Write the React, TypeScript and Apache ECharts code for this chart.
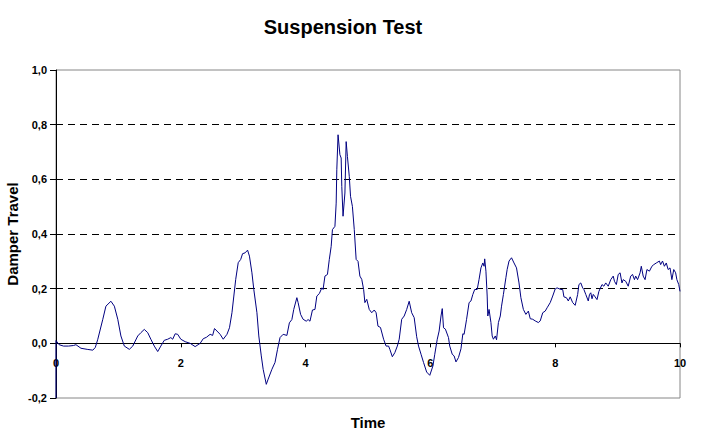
import React, { useEffect, useRef } from "react";
import * as echarts from "echarts";

const FONT = 'Arial, "Liberation Sans", sans-serif';

const chartTitle = "Suspension Test";
const xAxisTitle = "Time";
const yAxisTitle = "Damper Travel";

const timeValues = [
  0.0, 0.0, 0.05, 0.12, 0.2, 0.28, 0.32, 0.4, 0.5, 0.59, 0.63, 0.67, 0.75, 0.8, 0.88, 0.935, 0.99,
  1.04, 1.095, 1.175, 1.23, 1.31, 1.36, 1.415, 1.47, 1.52, 1.575, 1.63, 1.68, 1.735, 1.79, 1.84,
  1.87, 1.91, 1.95, 2.0, 2.07, 2.15, 2.23, 2.31, 2.36, 2.41, 2.47, 2.51, 2.54, 2.58, 2.63, 2.68,
  2.74, 2.78, 2.82, 2.85, 2.88, 2.92, 2.96, 2.99, 3.03, 3.07, 3.1, 3.14, 3.17, 3.22, 3.25, 3.29,
  3.32, 3.37, 3.4, 3.46, 3.51, 3.55, 3.59, 3.64, 3.7, 3.74, 3.78, 3.81, 3.86, 3.88, 3.92, 3.96,
  4.01, 4.04, 4.07, 4.11, 4.15, 4.18, 4.22, 4.26, 4.28, 4.31, 4.35, 4.38, 4.41, 4.43, 4.47, 4.49,
  4.5, 4.52, 4.55, 4.57, 4.58, 4.6, 4.63, 4.65, 4.67, 4.7, 4.72, 4.75, 4.78, 4.81, 4.84, 4.87,
  4.9, 4.93, 4.95, 4.98, 5.02, 5.06, 5.1, 5.13, 5.16, 5.2, 5.25, 5.29, 5.33, 5.35, 5.39, 5.43,
  5.47, 5.5, 5.54, 5.58, 5.62, 5.66, 5.7, 5.74, 5.78, 5.81, 5.85, 5.89, 5.94, 5.99, 6.04, 6.07,
  6.11, 6.14, 6.17, 6.19, 6.21, 6.24, 6.29, 6.31, 6.35, 6.38, 6.41, 6.45, 6.49, 6.52, 6.54, 6.58,
  6.62, 6.65, 6.68, 6.71, 6.75, 6.78, 6.81, 6.84, 6.86, 6.87, 6.89, 6.91, 6.92, 6.94, 6.97, 6.99,
  7.01, 7.04, 7.06, 7.09, 7.12, 7.14, 7.17, 7.21, 7.23, 7.26, 7.3, 7.34, 7.38, 7.42, 7.45, 7.49,
  7.53, 7.57, 7.6, 7.64, 7.68, 7.73, 7.76, 7.8, 7.84, 7.87, 7.92, 7.96, 8.0, 8.03, 8.09, 8.12,
  8.14, 8.18, 8.21, 8.24, 8.28, 8.32, 8.36, 8.38, 8.41, 8.44, 8.46, 8.49, 8.53, 8.55, 8.57, 8.59,
  8.61, 8.64, 8.67, 8.7, 8.75, 8.78, 8.81, 8.85, 8.89, 8.93, 8.95, 8.98, 9.01, 9.04, 9.07, 9.09,
  9.13, 9.17, 9.21, 9.24, 9.27, 9.29, 9.32, 9.36, 9.38, 9.41, 9.44, 9.47, 9.51, 9.55, 9.58, 9.62,
  9.67, 9.69, 9.72, 9.75, 9.78, 9.81, 9.84, 9.87, 9.9, 9.93, 9.95, 9.98, 10.0,
];

const damperTravel = [
  -0.2, 0.01, -0.005, -0.01, -0.01, -0.008, -0.005, -0.018, -0.022, -0.025, -0.015, 0.015, 0.088,
  0.136, 0.154, 0.136, 0.088, 0.027, -0.01, -0.022, -0.01, 0.027, 0.039, 0.051, 0.039, 0.015,
  -0.01, -0.03, -0.01, 0.011, 0.015, 0.021, 0.015, 0.035, 0.033, 0.015, 0.006, 0.0, -0.012, 0.0,
  0.017, 0.022, 0.033, 0.029, 0.054, 0.045, 0.033, 0.015, 0.033, 0.057, 0.112, 0.173, 0.234,
  0.295, 0.307, 0.328, 0.331, 0.341, 0.319, 0.258, 0.197, 0.112, 0.027, -0.046, -0.095, -0.15,
  -0.131, -0.095, -0.07, -0.022, 0.021, 0.033, 0.029, 0.075, 0.087, 0.124, 0.167, 0.149, 0.106,
  0.088, 0.081, 0.087, 0.081, 0.122, 0.124, 0.173, 0.182, 0.203, 0.197, 0.246, 0.252, 0.307,
  0.355, 0.416, 0.428, 0.513, 0.635, 0.763, 0.69, 0.678, 0.574, 0.465, 0.55, 0.738, 0.684, 0.611,
  0.538, 0.501, 0.416, 0.307, 0.3, 0.246, 0.234, 0.197, 0.149, 0.161, 0.124, 0.112, 0.122, 0.112,
  0.063, 0.058, 0.015, -0.01, -0.01, -0.022, -0.049, -0.034, -0.01, 0.015, 0.088, 0.1, 0.124,
  0.154, 0.112, 0.094, 0.024, -0.01, -0.04, -0.07, -0.105, -0.117, -0.083, -0.04, 0.015, 0.045,
  0.1, 0.127, 0.057, 0.052, 0.021, -0.01, -0.04, -0.046, -0.068, -0.052, -0.02, 0.035, 0.033,
  0.088, 0.149, 0.155, 0.179, 0.197, 0.197, 0.234, 0.276, 0.294, 0.282, 0.309, 0.264, 0.173, 0.1,
  0.124, 0.076, 0.027, 0.015, 0.027, 0.013, 0.076, 0.1, 0.136, 0.179, 0.24, 0.27, 0.301, 0.313,
  0.294, 0.276, 0.221, 0.167, 0.124, 0.106, 0.118, 0.09, 0.088, 0.082, 0.076, 0.082, 0.112, 0.118,
  0.13, 0.149, 0.173, 0.199, 0.203, 0.197, 0.197, 0.17, 0.167, 0.155, 0.17, 0.149, 0.139, 0.179,
  0.215, 0.221, 0.203, 0.197, 0.179, 0.155, 0.179, 0.185, 0.163, 0.179, 0.17, 0.16, 0.19, 0.215,
  0.209, 0.221, 0.209, 0.233, 0.246, 0.227, 0.215, 0.252, 0.258, 0.221, 0.233, 0.227, 0.209,
  0.246, 0.252, 0.233, 0.246, 0.233, 0.258, 0.282, 0.246, 0.233, 0.27, 0.264, 0.282, 0.288,
  0.294, 0.301, 0.288, 0.301, 0.282, 0.294, 0.27, 0.276, 0.233, 0.27, 0.258, 0.233, 0.215, 0.19,
];

const xMin = 0;
const xMax = 10;
const xStep = 2;
const yMin = -0.2;
const yMax = 1.0;
const yStep = 0.2;

const formatY = (v: number) => v.toFixed(1).replace(".", ",");

export default function App() {
  const ref = useRef<HTMLDivElement>(null);

  useEffect(() => {
    if (!ref.current) return;
    const chart = echarts.init(ref.current, undefined, { renderer: "svg" });
    const data = timeValues.map((t, i) => [t, damperTravel[i]]);
    chart.setOption({
      animation: false,
      grid: {
        left: 56,
        top: 70,
        right: 22,
        bottom: 44,
        show: true,
        borderColor: "#868686",
        borderWidth: 1,
        backgroundColor: "transparent",
      },
      xAxis: {
        type: "value",
        min: xMin,
        max: xMax,
        interval: xStep,
        axisLine: { show: true, onZero: true, lineStyle: { color: "#000", width: 1 } },
        axisTick: { show: true, length: 4, inside: false, lineStyle: { color: "#000" } },
        axisLabel: {
          margin: -41,
          color: "#000",
          fontWeight: "bold",
          fontSize: 11,
          fontFamily: FONT,
          showMinLabel: true,
          showMaxLabel: true,
        },
        splitLine: { show: false },
      },
      yAxis: {
        type: "value",
        min: yMin,
        max: yMax,
        interval: yStep,
        axisLine: { show: true, onZero: false, lineStyle: { color: "#000", width: 1 } },
        axisTick: { show: true, length: 6, inside: false, lineStyle: { color: "#000" } },
        axisLabel: {
          margin: 9,
          color: "#000",
          fontWeight: "bold",
          fontSize: 11,
          fontFamily: FONT,
          formatter: formatY,
          showMinLabel: true,
          showMaxLabel: true,
        },
        splitLine: {
          show: true,
          showMinLine: false,
          showMaxLine: false,
          lineStyle: { color: "#000", type: [7, 5], width: 1 },
        },
      },
      series: [
        {
          type: "line",
          data,
          showSymbol: false,
          symbol: "none",
          smooth: false,
          lineStyle: { color: "#000080", width: 1 },
          clip: true,
        },
      ],
      graphic: [
        {
          type: "text",
          x: 343,
          y: 27,
          style: {
            text: chartTitle,
            font: `bold 20px ${FONT}`,
            fill: "#000",
            align: "center",
            verticalAlign: "middle",
          },
        },
        {
          type: "text",
          x: 368,
          y: 422,
          style: {
            text: xAxisTitle,
            font: `bold 15px ${FONT}`,
            fill: "#000",
            align: "center",
            verticalAlign: "middle",
          },
        },
        {
          type: "text",
          x: 12,
          y: 234,
          rotation: Math.PI / 2,
          style: {
            text: yAxisTitle,
            font: `bold 15px ${FONT}`,
            fill: "#000",
            align: "center",
            verticalAlign: "middle",
          },
        },
      ],
    });
    return () => chart.dispose();
  }, []);

  return (
    <div
      ref={ref}
      style={{ position: "absolute", left: 0, top: 0, width: 702, height: 442, background: "#fff" }}
    />
  );
}
